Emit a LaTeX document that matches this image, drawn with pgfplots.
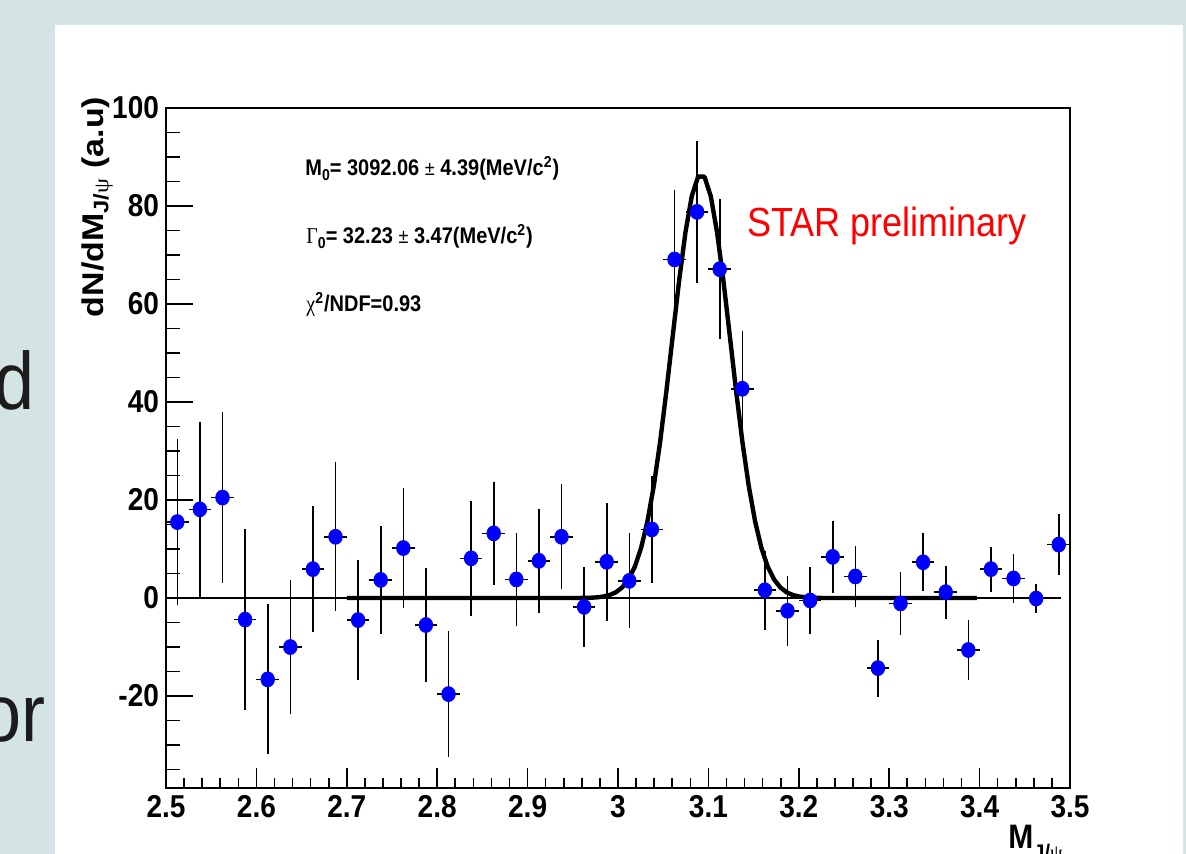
\documentclass[border=0pt]{standalone}
\usepackage{fontspec}
\setmainfont{Liberation Sans}
\newfontfamily\symfont{Liberation Serif}
\usepackage{graphicx}
\usepackage{pgfplots}
\pgfplotsset{compat=1.18}
\usepackage{pgfplotstable}
\definecolor{bgcol}{RGB}{212,228,228}
\definecolor{slidetext}{RGB}{28,28,28}
\definecolor{starred}{RGB}{255,0,0}

\pgfplotstableread{
x y ey
2.5125 15.5 16.9
2.5375 18.1 17.8
2.5625 20.5 17.4
2.5875 -4.4 18.5
2.6125 -16.6 15.3
2.6375 -10.0 13.7
2.6625 5.9 12.9
2.6875 12.5 15.2
2.7125 -4.5 12.2
2.7375 3.7 11.1
2.7625 10.2 12.3
2.7875 -5.5 11.7
2.8125 -19.6 12.8
2.8375 8.1 11.7
2.8625 13.2 10.5
2.8875 3.8 9.5
2.9125 7.6 10.6
2.9375 12.5 10.7
2.9625 -1.8 8.2
2.9875 7.4 12.0
3.0125 3.5 9.7
3.0375 14.0 11.0
3.0625 69.1 14.1
3.0875 78.8 14.5
3.1125 67.1 14.3
3.1375 42.7 11.7
3.1625 1.6 8.1
3.1875 -2.6 7.1
3.2125 -0.5 6.8
3.2375 8.4 7.4
3.2625 4.4 6.2
3.2875 -14.3 5.8
3.3125 -1.1 6.5
3.3375 7.3 5.9
3.3625 1.2 5.4
3.3875 -10.6 6.1
3.4125 5.9 4.6
3.4375 4.0 5.0
3.4625 -0.1 3.0
3.4875 10.9 6.2
}\datatable

\pgfplotstableread{
x y
2.7000 0
2.9556 0.01
2.9626 0.03
2.9696 0.06
2.9766 0.14
2.9836 0.30
2.9906 0.60
2.9976 1.17
3.0046 2.16
3.0116 3.80
3.0186 6.39
3.0256 10.25
3.0326 15.69
3.0396 22.90
3.0466 31.87
3.0536 42.33
3.0606 53.61
3.0676 64.76
3.0746 74.62
3.0816 82.02
3.0886 85.99
3.0956 85.99
3.1026 82.02
3.1096 74.62
3.1166 64.76
3.1236 53.61
3.1306 42.33
3.1376 31.87
3.1446 22.90
3.1516 15.69
3.1586 10.25
3.1656 6.39
3.1726 3.80
3.1796 2.16
3.1866 1.17
3.1936 0.60
3.2006 0.30
3.2076 0.14
3.2146 0.06
3.2216 0.03
3.2286 0.01
3.3970 0
}\fittable

\pgfplotsset{
  rootaxis/.style={
    scale only axis, width=452pt, height=339.85pt,
    at={(83pt,33.15pt)}, anchor=south west,
    xmin=2.5, xmax=3.5, ymin=-38.7, ymax=100,
    axis line style={line width=1pt, black},
    tick style={black, line width=0.8pt},
    tick align=inside,
    xtick pos=bottom, ytick pos=left,
    tick label style={font=\fontsize{14}{16}\selectfont\bfseries, yscale=1.13},
  }
}

\begin{document}
\begin{tikzpicture}
\path[use as bounding box] (0,0) rectangle (593pt,427pt);
\begin{scope}[x=0.5pt,y=-0.5pt,yshift=427pt]
  \fill[bgcol] (0,0) rectangle (1186,854);
  \node[anchor=base west, inner sep=0, font=\fontsize{36}{40}\selectfont, text=slidetext, yscale=1.13] at (-6,410) {d};
  \node[anchor=base west, inner sep=0, font=\fontsize{36}{40}\selectfont, text=slidetext, yscale=1.13] at (-19,742) {or};
  \fill[white] (55,25) rectangle (1183,854);
\end{scope}

\begin{axis}[rootaxis,
  xtick=\empty,
  ytick={-20,0,20,40,60,80,100},
  yticklabels={\textbf{-20},\textbf{0},\textbf{20},\textbf{40},\textbf{60},\textbf{80},\textbf{100}},
  minor ytick={-35,-30,-25,-15,-10,-5,5,10,15,25,30,35,45,50,55,65,70,75,85,90,95},
  major tick length=13.5pt, minor tick length=6.75pt,
]
  \addplot[draw=none, mark=none, forget plot,
    error bars/.cd, x dir=both, x fixed=0.0125, y dir=both, y explicit,
    error mark=none, error bar style={draw=black, line width=0.8pt}]
    table[x=x, y=y, y error=ey] {\datatable};
  \addplot[only marks, mark=*, mark size=3.4pt,
    mark options={draw=blue, fill=blue, yscale=1.1}]
    table[x=x, y=y] {\datatable};
  \addplot[black, line width=1.1pt] coordinates {(2.5,0) (3.49,0)};
  \addplot[black, line width=2.2pt, line join=round] table[x=x, y=y] {\fittable};
\end{axis}

\begin{axis}[rootaxis,
  ytick=\empty,
  xtick={2.5,2.6,2.7,2.8,2.9,3.0,3.1,3.2,3.3,3.4,3.5},
  xticklabels={\textbf{2.5},\textbf{2.6},\textbf{2.7},\textbf{2.8},\textbf{2.9},\textbf{3},\textbf{3.1},\textbf{3.2},\textbf{3.3},\textbf{3.4},\textbf{3.5}},
  minor xtick={2.52,2.54,2.56,2.58,2.62,2.64,2.66,2.68,2.72,2.74,2.76,2.78,2.82,2.84,2.86,2.88,2.92,2.94,2.96,2.98,3.02,3.04,3.06,3.08,3.12,3.14,3.16,3.18,3.22,3.24,3.26,3.28,3.32,3.34,3.36,3.38,3.42,3.44,3.46,3.48},
  major tick length=10pt, minor tick length=5pt,
]
\end{axis}

\begin{scope}[x=0.5pt,y=-0.5pt,yshift=427pt]
  \node[anchor=base west, inner sep=0, font=\fontsize{10}{12}\selectfont\bfseries, yscale=1.13] at (305,176)
    {M\raisebox{-0.35ex}{\fontsize{7}{8}\selectfont 0}= 3092.06 {\mdseries\fontsize{9}{11}\selectfont ±} 4.39(MeV/c\textsuperscript{2})};
  \node[anchor=base west, inner sep=0, font=\fontsize{10}{12}\selectfont\bfseries, yscale=1.13] at (306,244)
    {{\symfont\mdseries Γ}\raisebox{-0.35ex}{\fontsize{7}{8}\selectfont 0}= 32.23 {\mdseries\fontsize{9}{11}\selectfont ±} 3.47(MeV/c\textsuperscript{2})};
  \node[anchor=base west, inner sep=0, font=\fontsize{10}{12}\selectfont\bfseries, yscale=1.13] at (306,312)
    {{\symfont\mdseries χ}\textsuperscript{2}/NDF=0.93};
  \node[anchor=base west, inner sep=0, font=\fontsize{18}{22}\selectfont, text=starred, yscale=1.13] at (747,237)
    {STAR preliminary};
  \node[rotate=90, anchor=base, inner sep=0, font=\fontsize{15}{18}\selectfont\bfseries] at (103,207)
    {\scalebox{1.13}[1]{dN/dM\textsubscript{J/{\symfont\mdseries ψ}} (a.u)}};
  \node[anchor=base west, inner sep=0, font=\fontsize{15}{18}\selectfont\bfseries, yscale=1.13] at (1008,849)
    {M\raisebox{-5pt}{\fontsize{10}{12}\selectfont J/{\symfont\mdseries ψ}}};
\end{scope}
\end{tikzpicture}
\end{document}
